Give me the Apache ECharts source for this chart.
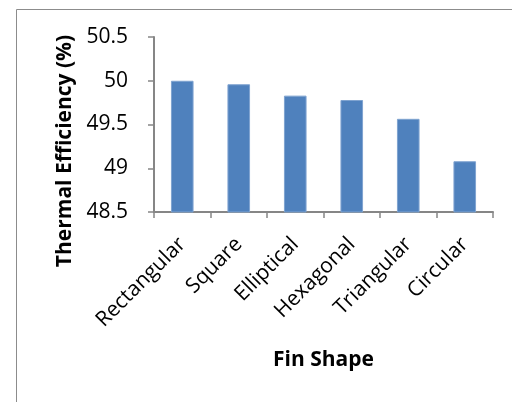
<!DOCTYPE html>
<html>
<head>
<meta charset="utf-8">
<script src="https://cdn.jsdelivr.net/npm/echarts@6/dist/echarts.min.js"></script>
<style>
  html, body { margin: 0; padding: 0; background: #fff; }
  #chart { width: 512px; height: 402px; }
</style>
</head>
<body>
<div id="chart"></div>
<script>
// Fin shapes and their thermal efficiency (%)
const categories = ['Rectangular', 'Square', 'Elliptical', 'Hexagonal', 'Triangular', 'Circular'];
const efficiency = [50.0, 49.96, 49.83, 49.78, 49.565, 49.08];
const yTicks = { min: 48.5, max: 50.5, step: 0.5 };
const yTitle = 'Thermal Efficiency (%)';
const xTitle = 'Fin Shape';

const FONT = '"Open Sans"';
const axisGray = '#868686';

const chart = echarts.init(document.getElementById('chart'), null, { renderer: 'canvas' });
chart.setOption({
  animation: false,
  backgroundColor: '#ffffff',
  graphic: [{
    // outer chart-area frame
    type: 'rect',
    shape: { x: 16.5, y: 9.5, width: 600, height: 600 },
    style: { fill: 'none', stroke: '#8c8c8c', lineWidth: 1 },
    silent: true
  }, {
    // vertical axis title, centred on the full label block
    type: 'text',
    x: 65, y: 151,
    rotation: Math.PI / 2,
    style: {
      text: yTitle, fontFamily: FONT, fontSize: 21, fontWeight: 'bold',
      fill: '#000', align: 'center', verticalAlign: 'middle'
    },
    silent: true
  }],
  grid: { left: 154, right: 19, top: 37, bottom: 190 },
  xAxis: {
    type: 'category',
    data: categories,
    name: xTitle,
    nameLocation: 'middle',
    nameGap: 138,
    nameTextStyle: { fontFamily: FONT, fontSize: 21, fontWeight: 'bold', color: '#000' },
    axisLine: { lineStyle: { color: axisGray, width: 2 } },
    axisTick: { show: true, length: 6, lineStyle: { color: axisGray, width: 1.5 } },
    axisLabel: { rotate: 45, margin: 29, fontFamily: FONT, fontSize: 21, color: '#000' }
  },
  yAxis: {
    type: 'value',
    min: yTicks.min,
    max: yTicks.max,
    interval: yTicks.step,
    axisLine: { show: true, lineStyle: { color: axisGray, width: 2 } },
    axisTick: { show: true, length: 6, lineStyle: { color: axisGray, width: 1.5 } },
    splitLine: { show: false },
    axisLabel: {
      margin: 26, fontFamily: FONT, fontSize: 21, color: '#000',
      formatter: v => String(+v.toFixed(1))
    }
  },
  series: [{
    type: 'bar',
    data: efficiency,
    barWidth: '40%',
    itemStyle: { color: '#4F81BD', borderColor: '#7FA3D0', borderWidth: 1 }
  }]
});
</script>
</body>
</html>
